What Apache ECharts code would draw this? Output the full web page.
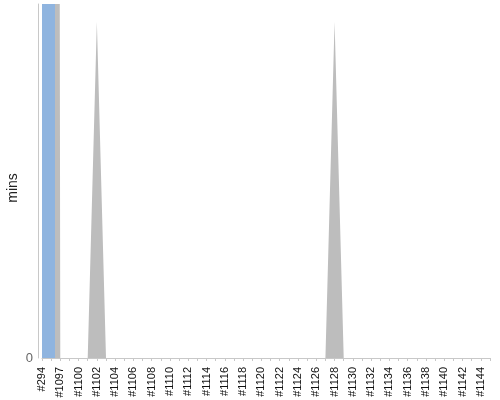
<!DOCTYPE html>
<html>
<head>
<meta charset="utf-8">
<script src="https://cdn.jsdelivr.net/npm/echarts@6/dist/echarts.min.js"></script>
<style>
  html, body { margin: 0; padding: 0; background: #fff; }
  #main { width: 500px; height: 400px; }
</style>
</head>
<body>
<div id="main"></div>
<script>
// build numbers on the x axis
var builds = ['#294', '#1096', '#1097', '#1099', '#1100', '#1101', '#1102', '#1103', '#1104', '#1105',
  '#1106', '#1107', '#1108', '#1109', '#1110', '#1111', '#1112', '#1113', '#1114', '#1115',
  '#1116', '#1117', '#1118', '#1119', '#1120', '#1121', '#1122', '#1123', '#1124', '#1125',
  '#1126', '#1127', '#1128', '#1129', '#1130', '#1131', '#1132', '#1133', '#1134', '#1135',
  '#1136', '#1137', '#1138', '#1139', '#1140', '#1141', '#1142', '#1143', '#1144', '#1145'];

// build duration (mins), gray area
var durations = [900, 700, 0, 0, 0, 0, 38, 0, 0, 0,
  0, 0, 0, 0, 0, 0, 0, 0, 0, 0,
  0, 0, 0, 0, 0, 0, 0, 0, 0, 0,
  0, 0, 38, 0, 0, 0, 0, 0, 0, 0,
  0, 0, 0, 0, 0, 0, 0, 0, 0, 0];

// highlighted build, blue bar
var current = [900];

var yMax = 40;

var chart = echarts.init(document.getElementById('main'));

var option = {
    animation: false,
    textStyle: { fontFamily: 'Liberation Sans, Arial, sans-serif' },
    grid: { left: 42, right: 10, top: 4, bottom: 42, outerBoundsMode: 'none', containLabel: false },
    xAxis: {
        type: 'category',
        data: builds,
        boundaryGap: false,
        offset: 4,
        axisLine: { lineStyle: { color: '#c8c8c8' } },
        axisTick: { length: 3, interval: 0, lineStyle: { color: '#c8c8c8' } },
        axisLabel: { rotate: 90, interval: 1, margin: 5, fontSize: 11, color: '#111' },
        splitLine: { show: false }
    },
    yAxis: {
        type: 'value',
        min: 0,
        max: yMax,
        interval: yMax,
        offset: 4,
        name: 'mins',
        nameLocation: 'middle',
        nameRotate: 90,
        nameGap: 18,
        nameMoveOverlap: false,
        nameTextStyle: { fontSize: 14, color: '#222', padding: [0, 14, 0, 0] },
        axisLine: { show: true, lineStyle: { color: '#c8c8c8' } },
        axisTick: { show: false },
        axisLabel: {
            margin: 5,
            fontSize: 13,
            color: '#666',
            formatter: function (v) { return v === 0 ? '0' : ''; }
        },
        splitLine: { show: false }
    },
    series: [
        {
            name: 'duration',
            type: 'line',
            data: durations,
            symbol: 'none',
            lineStyle: { width: 0 },
            itemStyle: { color: '#bdbdbd' },
            areaStyle: { color: '#bdbdbd', opacity: 1 }
        },
        {
            // empty slot so the blue bar sits right of the first tick
            name: 'spacer',
            type: 'bar',
            data: [null],
            barWidth: 13,
            barGap: '0%'
        },
        {
            name: 'current',
            type: 'bar',
            data: current,
            barWidth: 13,
            barGap: '0%',
            z: 3,
            itemStyle: { color: '#8fb4df' }
        }
    ]
};

chart.setOption(option);
</script>
</body>
</html>
